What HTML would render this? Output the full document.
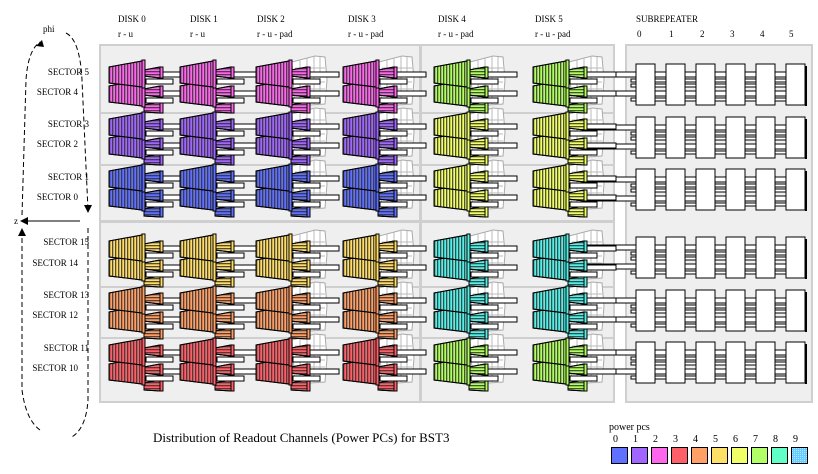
<!DOCTYPE html>
<html><head><meta charset="utf-8"><style>
html,body{margin:0;padding:0;background:#fff;}
svg{display:block;}
text{font-family:"Liberation Serif",serif;fill:#000;}
.s{font-size:9px;}
</style></head><body>
<svg width="818" height="474" viewBox="0 0 818 474" xmlns="http://www.w3.org/2000/svg">
<defs>
<pattern id="h" width="3" height="3" patternUnits="userSpaceOnUse"><rect x="1" width="1.3" height="3" fill="#333" opacity="0.85"/></pattern>
<pattern id="hh" width="3" height="3" patternUnits="userSpaceOnUse"><rect y="1" width="3" height="1.3" fill="#333" opacity="0.85"/></pattern>
<pattern id="dot" width="2" height="2" patternUnits="userSpaceOnUse"><rect width="1" height="1" fill="#fff"/></pattern>
<symbol id="ghost" overflow="visible">
<path d="M37,2 L60,-4 L70,-3 L72,20 L70,44 L40,46 Z" fill="#fff" stroke="#aaa" stroke-width="1"/>
<path d="M40,8 H70 M40,15 H70 M40,22 H70 M40,29 H70 M40,36 H70 M45,0 V45 M52,-2 V45 M59,-4 V45 M65,-3 V45" stroke="#bbb" stroke-width="1" fill="none"/>
</symbol>
<symbol id="mod" overflow="visible">
<g stroke="#000" stroke-width="1">
<polygon points="36,44 52,41 52,52 36,51" fill="currentColor"/><polygon points="36,44 52,41 52,52 36,51" fill="url(#hh)"/>
<rect x="52" y="41" width="3" height="11" fill="currentColor"/>
<polygon points="36,9 52,6 52,17 36,15" fill="currentColor"/><polygon points="36,9 52,6 52,17 36,15" fill="url(#hh)"/>
<rect x="52" y="6" width="3" height="11" fill="currentColor"/>
<polygon points="36,28 52,25 52,36 36,34" fill="currentColor"/><polygon points="36,28 52,25 52,36 36,34" fill="url(#hh)"/>
<rect x="52" y="25" width="3" height="11" fill="currentColor"/>
<polygon points="1,25 34,19 34,45 1,41" fill="currentColor"/><polygon points="1,25 34,19 34,45 1,41" fill="url(#h)"/>
<rect x="34" y="18" width="3" height="28" fill="currentColor"/>
<polygon points="1,6 34,0 34,26 1,22" fill="currentColor"/><polygon points="1,6 34,0 34,26 1,22" fill="url(#h)"/>
<rect x="34" y="-1" width="3" height="28" fill="currentColor"/>
<rect x="55" y="11" width="29" height="5" fill="#fff"/>
<rect x="38" y="18" width="27" height="5" fill="#fff"/>
<rect x="55" y="30" width="29" height="5" fill="#fff"/>
<rect x="38" y="37" width="27" height="5" fill="#fff"/>
</g>
</symbol>
<symbol id="sub" overflow="visible">
<g stroke="#000" stroke-width="1" fill="#fff">
<rect x="-50" y="8" width="212" height="5"/><rect x="-50" y="27" width="212" height="5"/>
<rect x="-5" y="15" width="170" height="3"/><rect x="-5" y="20" width="170" height="3"/>
<rect x="-5" y="34" width="170" height="3"/>
<rect x="0" y="0" width="19" height="41"/><rect x="30" y="0" width="19" height="41"/>
<rect x="60" y="0" width="19" height="41"/><rect x="90" y="0" width="19" height="41"/>
<rect x="120" y="0" width="19" height="41"/><rect x="150" y="0" width="19" height="41"/>
</g>
<rect x="169" y="2" width="2" height="40" fill="#000"/>
</symbol>
</defs>

<g fill="#efefef" stroke="#cfcfcf" stroke-width="2">
<rect x="100" y="45" width="320" height="176"/>
<rect x="100" y="222" width="320" height="180"/>
<rect x="421" y="45" width="193" height="176"/>
<rect x="421" y="222" width="193" height="180"/>
<rect x="626" y="45" width="186" height="357"/>
</g>
<g stroke="#cfcfcf" stroke-width="2">
<line x1="100" y1="113" x2="614" y2="113"/><line x1="100" y1="165" x2="614" y2="165"/>
<line x1="100" y1="287" x2="614" y2="287"/><line x1="100" y1="338" x2="614" y2="338"/>
</g>

<g>
<use href="#ghost" x="255" y="60"/><use href="#ghost" x="342" y="60"/><use href="#ghost" x="433" y="60"/><use href="#ghost" x="532" y="60"/>
<use href="#ghost" x="255" y="112"/><use href="#ghost" x="342" y="112"/><use href="#ghost" x="433" y="112"/><use href="#ghost" x="532" y="112"/>
<use href="#ghost" x="255" y="164"/><use href="#ghost" x="342" y="164"/><use href="#ghost" x="433" y="164"/><use href="#ghost" x="532" y="164"/>
<use href="#ghost" x="255" y="234"/><use href="#ghost" x="342" y="234"/><use href="#ghost" x="433" y="234"/><use href="#ghost" x="532" y="234"/>
<use href="#ghost" x="255" y="286"/><use href="#ghost" x="342" y="286"/><use href="#ghost" x="433" y="286"/><use href="#ghost" x="532" y="286"/>
<use href="#ghost" x="255" y="338"/><use href="#ghost" x="342" y="338"/><use href="#ghost" x="433" y="338"/><use href="#ghost" x="532" y="338"/>
</g>

<use href="#sub" x="636" y="64"/><use href="#sub" x="636" y="117"/><use href="#sub" x="636" y="169"/>
<use href="#sub" x="636" y="237"/><use href="#sub" x="636" y="290"/><use href="#sub" x="636" y="342"/>

<g style="color:#ff66ee"><use href="#mod" x="108" y="61"/><use href="#mod" x="179" y="61"/><use href="#mod" x="255" y="61"/><use href="#mod" x="342" y="61"/></g>
<g style="color:#a066ff"><use href="#mod" x="108" y="113"/><use href="#mod" x="179" y="113"/><use href="#mod" x="255" y="113"/><use href="#mod" x="342" y="113"/></g>
<g style="color:#6070ff"><use href="#mod" x="108" y="165"/><use href="#mod" x="179" y="165"/><use href="#mod" x="255" y="165"/><use href="#mod" x="342" y="165"/></g>
<g style="color:#ffdd66"><use href="#mod" x="108" y="235"/><use href="#mod" x="179" y="235"/><use href="#mod" x="255" y="235"/><use href="#mod" x="342" y="235"/></g>
<g style="color:#ff9f66"><use href="#mod" x="108" y="287"/><use href="#mod" x="179" y="287"/><use href="#mod" x="255" y="287"/><use href="#mod" x="342" y="287"/></g>
<g style="color:#ff6068"><use href="#mod" x="108" y="339"/><use href="#mod" x="179" y="339"/><use href="#mod" x="255" y="339"/><use href="#mod" x="342" y="339"/></g>
<g style="color:#b0ff60"><use href="#mod" x="433" y="61"/><use href="#mod" x="532" y="61"/><use href="#mod" x="433" y="339"/><use href="#mod" x="532" y="339"/></g>
<g style="color:#f0ff66"><use href="#mod" x="433" y="113"/><use href="#mod" x="532" y="113"/><use href="#mod" x="433" y="165"/><use href="#mod" x="532" y="165"/></g>
<g style="color:#55f0e8"><use href="#mod" x="433" y="235"/><use href="#mod" x="532" y="235"/><use href="#mod" x="433" y="287"/><use href="#mod" x="532" y="287"/></g>

<g class="s">
<text x="118" y="22">DISK 0</text><text x="118" y="37">r - u</text>
<text x="190" y="22">DISK 1</text><text x="190" y="37">r - u</text>
<text x="257" y="22">DISK 2</text><text x="257" y="37">r - u - pad</text>
<text x="348" y="22">DISK 3</text><text x="348" y="37">r - u - pad</text>
<text x="438" y="22">DISK 4</text><text x="438" y="37">r - u - pad</text>
<text x="535" y="22">DISK 5</text><text x="535" y="37">r - u - pad</text>
<text x="636" y="22">SUBREPEATER</text>
<text x="637" y="37">0</text><text x="669" y="37">1</text><text x="700" y="37">2</text><text x="730" y="37">3</text><text x="760" y="37">4</text><text x="789" y="37">5</text>
</g>
<g class="s" text-anchor="end">
<text x="89" y="75">SECTOR 5</text><text x="78" y="95">SECTOR 4</text>
<text x="89" y="127">SECTOR 3</text><text x="78" y="147">SECTOR 2</text>
<text x="89" y="180">SECTOR 1</text><text x="78" y="200">SECTOR 0</text>
<text x="89" y="245">SECTOR 15</text><text x="78" y="266">SECTOR 14</text>
<text x="89" y="298">SECTOR 13</text><text x="78" y="318">SECTOR 12</text>
<text x="89" y="351">SECTOR 11</text><text x="78" y="371">SECTOR 10</text>
</g>
<text class="s" x="43" y="32">phi</text>
<text class="s" x="14" y="224">z</text>

<g fill="none" stroke="#000" stroke-width="1" stroke-dasharray="5,3">
<path d="M66,33 Q80,40 82,80 L88,210"/>
<path d="M22,215 L26,80 Q28,50 40,42"/>
<path d="M88,228 L88,400 Q86,430 70,438"/>
<path d="M22,230 L22,390 Q26,420 40,430"/>
</g>
<line x1="80" y1="221" x2="25" y2="221" stroke="#000"/>
<polygon points="20,221 28,217 28,225" fill="#000"/>
<polygon points="88,213 84,205 92,205" fill="#000"/>
<polygon points="42,40 36,46 44,47" fill="#000"/>
<polygon points="22,228 18,236 26,236" fill="#000"/>

<text x="153" y="442" style="font-size:13px">Distribution of Readout Channels (Power PCs) for BST3</text>

<text x="609" y="430" style="font-size:10px">power pcs</text>
<g style="font-size:10px">
<text x="613" y="442">0</text><text x="633" y="442">1</text><text x="653" y="442">2</text><text x="673" y="442">3</text><text x="693" y="442">4</text><text x="713" y="442">5</text><text x="733" y="442">6</text><text x="753" y="442">7</text><text x="773" y="442">8</text><text x="793" y="442">9</text>
</g>
<g stroke="#000" stroke-width="1">
<rect x="611.5" y="447.5" width="16" height="16" fill="#6070ff"/>
<rect x="631.5" y="447.5" width="16" height="16" fill="#a066ff"/>
<rect x="651.5" y="447.5" width="16" height="16" fill="#ff66ee"/>
<rect x="671.5" y="447.5" width="16" height="16" fill="#ff6068"/>
<rect x="691.5" y="447.5" width="16" height="16" fill="#ffa066"/>
<rect x="711.5" y="447.5" width="16" height="16" fill="#ffe066"/>
<rect x="731.5" y="447.5" width="16" height="16" fill="#f0ff66"/>
<rect x="751.5" y="447.5" width="16" height="16" fill="#b0ff66"/>
<rect x="771.5" y="447.5" width="16" height="16" fill="#60ffc8"/>
<rect x="791.5" y="447.5" width="16" height="16" fill="#66ccff"/>
<rect x="792" y="448" width="15" height="15" fill="url(#dot)" stroke="none" opacity="0.5"/>
</g>
</svg>
</body></html>
